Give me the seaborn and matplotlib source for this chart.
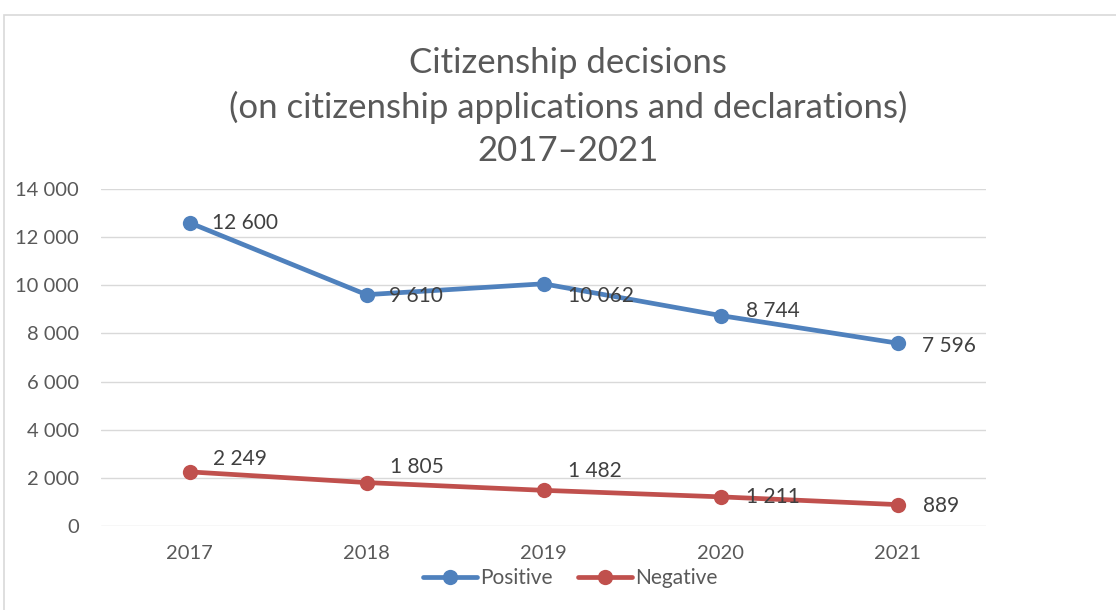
import matplotlib
matplotlib.use("Agg")
import matplotlib.pyplot as plt
import seaborn as sns
import pandas as pd
from matplotlib.patches import Rectangle
from matplotlib.lines import Line2D
from matplotlib.ticker import FuncFormatter, MultipleLocator

years = ["2017", "2018", "2019", "2020", "2021"]
positive = [12600, 9610, 10062, 8744, 7596]
negative = [2249, 1805, 1482, 1211, 889]
series_names = ["Positive", "Negative"]
title_text = "Citizenship decisions\n(on citizenship applications and declarations)\n2017\u20132021"

# label offsets (points) for data labels
pos_offsets = [(16, 0), (16, -1), (18, -9), (18, 3), (18, -2)]
neg_offsets = [(17, 9), (17, 11), (18, 14), (18, 0), (18, -1)]

sns.set_theme(style="white")
plt.rcParams["font.family"] = ["Lato", "DejaVu Sans"]

colors = {"Positive": "#4F81BD", "Negative": "#C0504D"}

df = pd.DataFrame({
    "x": list(range(len(years))) * 2,
    "value": positive + negative,
    "series": ["Positive"] * len(years) + ["Negative"] * len(years),
})

fig = plt.figure(figsize=(11.16, 6.10), dpi=100)
fig.patches.append(Rectangle((4 / 1116, -0.1), 1.2, (610 - 15) / 610 + 0.1,
                             transform=fig.transFigure, fill=False,
                             edgecolor="#D9D9D9", linewidth=1.2))
ax = fig.add_axes([101 / 1116, 1 - 526 / 610, (986 - 101) / 1116, (526 - 189) / 610])

sns.lineplot(data=df, x="x", y="value", hue="series", palette=colors,
             marker="o", markersize=11, linewidth=3.4, markeredgewidth=0,
             legend=False, ax=ax, zorder=3)

ax.set_xlim(-0.5, len(years) - 0.5)
ax.set_ylim(0, 14000)
ax.yaxis.set_major_locator(MultipleLocator(2000))
ax.yaxis.set_major_formatter(FuncFormatter(lambda v, p: f"{int(v):,}".replace(",", " ")))
ax.set_xticks(range(len(years)))
ax.set_xticklabels(years)
ax.grid(axis="y", color="#D9D9D9", linewidth=1)
for s in ax.spines.values():
    s.set_visible(False)
ax.tick_params(axis="both", length=0, labelsize=14.5, labelcolor="#595959")
ax.tick_params(axis="y", pad=16)
ax.tick_params(axis="x", pad=14)
ax.set_xlabel("")
ax.set_ylabel("")

fmt = lambda v: f"{v:,}".replace(",", " ")
for i, v in enumerate(positive):
    ax.annotate(fmt(v), (i, v), xytext=pos_offsets[i], textcoords="offset points",
                ha="left", va="center", fontsize=15, color="#404040", zorder=4)
for i, v in enumerate(negative):
    ax.annotate(fmt(v), (i, v), xytext=neg_offsets[i], textcoords="offset points",
                ha="left", va="center", fontsize=15, color="#404040", zorder=4)

fig.text(568 / 1116, 1 - 107 / 610, title_text, ha="center", va="center",
         fontsize=25, color="#595959", linespacing=1.42)

handles = [Line2D([0], [0], color=colors[n], marker="o", markersize=11,
                  linewidth=3.4, markeredgewidth=0) for n in series_names]
fig.legend(handles, series_names, loc="center", bbox_to_anchor=(570 / 1116, 1 - 578 / 610),
           ncol=2, frameon=False, fontsize=15, labelcolor="#595959",
           handlelength=2.6, handletextpad=0.15, columnspacing=1.2)

fig.savefig("out.png", dpi=100)
